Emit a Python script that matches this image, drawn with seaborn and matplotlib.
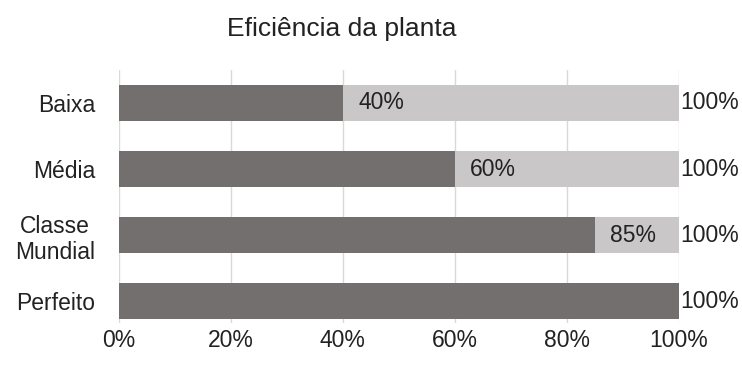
import matplotlib
matplotlib.use("Agg")
import matplotlib.pyplot as plt
import seaborn as sns
import pandas as pd

# dados
categorias = ["Baixa", "Média", "Classe\nMundial", "Perfeito"]
eficiencia = [40, 60, 85, 100]
total = [100, 100, 100, 100]
ticks_x = [0, 20, 40, 60, 80, 100]

sns.set_style("white")
plt.rcParams["font.family"] = ["Liberation Sans", "DejaVu Sans"]

fig, ax = plt.subplots(figsize=(7.42, 3.74), dpi=100)
fig.subplots_adjust(left=0.160, right=0.915, top=0.813, bottom=0.136)

df = pd.DataFrame({"cat": categorias, "ef": eficiencia, "tot": total})

# barra de fundo (100%) e barra de eficiencia
sns.barplot(data=df, x="tot", y="cat", color="#c9c7c8", width=0.55,
            saturation=1, linewidth=0, ax=ax)
sns.barplot(data=df, x="ef", y="cat", color="#736f6e", width=0.55,
            saturation=1, linewidth=0, ax=ax)

cor_txt = "#222222"
fs = 16.5

# rotulos
for i, (v, t) in enumerate(zip(eficiencia, total)):
    if v < t:
        ax.annotate(f"{v}%", (v, i), xytext=(11, 0), textcoords="offset points",
                    ha="left", va="center", fontsize=fs, color=cor_txt)
    ax.annotate(f"{t}%", (t, i), xytext=(1, 0), textcoords="offset points",
                ha="left", va="center", fontsize=fs, color=cor_txt)

ax.set_xlim(0, 100)
ax.set_ylim(3.33, -0.5)
ax.set_xticks(ticks_x)
ax.set_xticklabels([f"{x}%" for x in ticks_x], fontsize=fs, color=cor_txt)
ax.tick_params(axis="x", length=0, pad=4)
ax.tick_params(axis="y", length=0, pad=17, labelsize=fs, labelcolor=cor_txt)
for lbl in ax.get_yticklabels():
    lbl.set_multialignment("center")

ax.set_xlabel("")
ax.set_ylabel("")
ax.xaxis.grid(True, color="#d9d9d9", linewidth=1)
ax.set_axisbelow(True)
sns.despine(ax=ax, left=True, bottom=True)

fig.text(0.46, 0.922, "Eficiência da planta", ha="center", va="center",
         fontsize=19, color=cor_txt)

plt.savefig("out.png", dpi=100)
